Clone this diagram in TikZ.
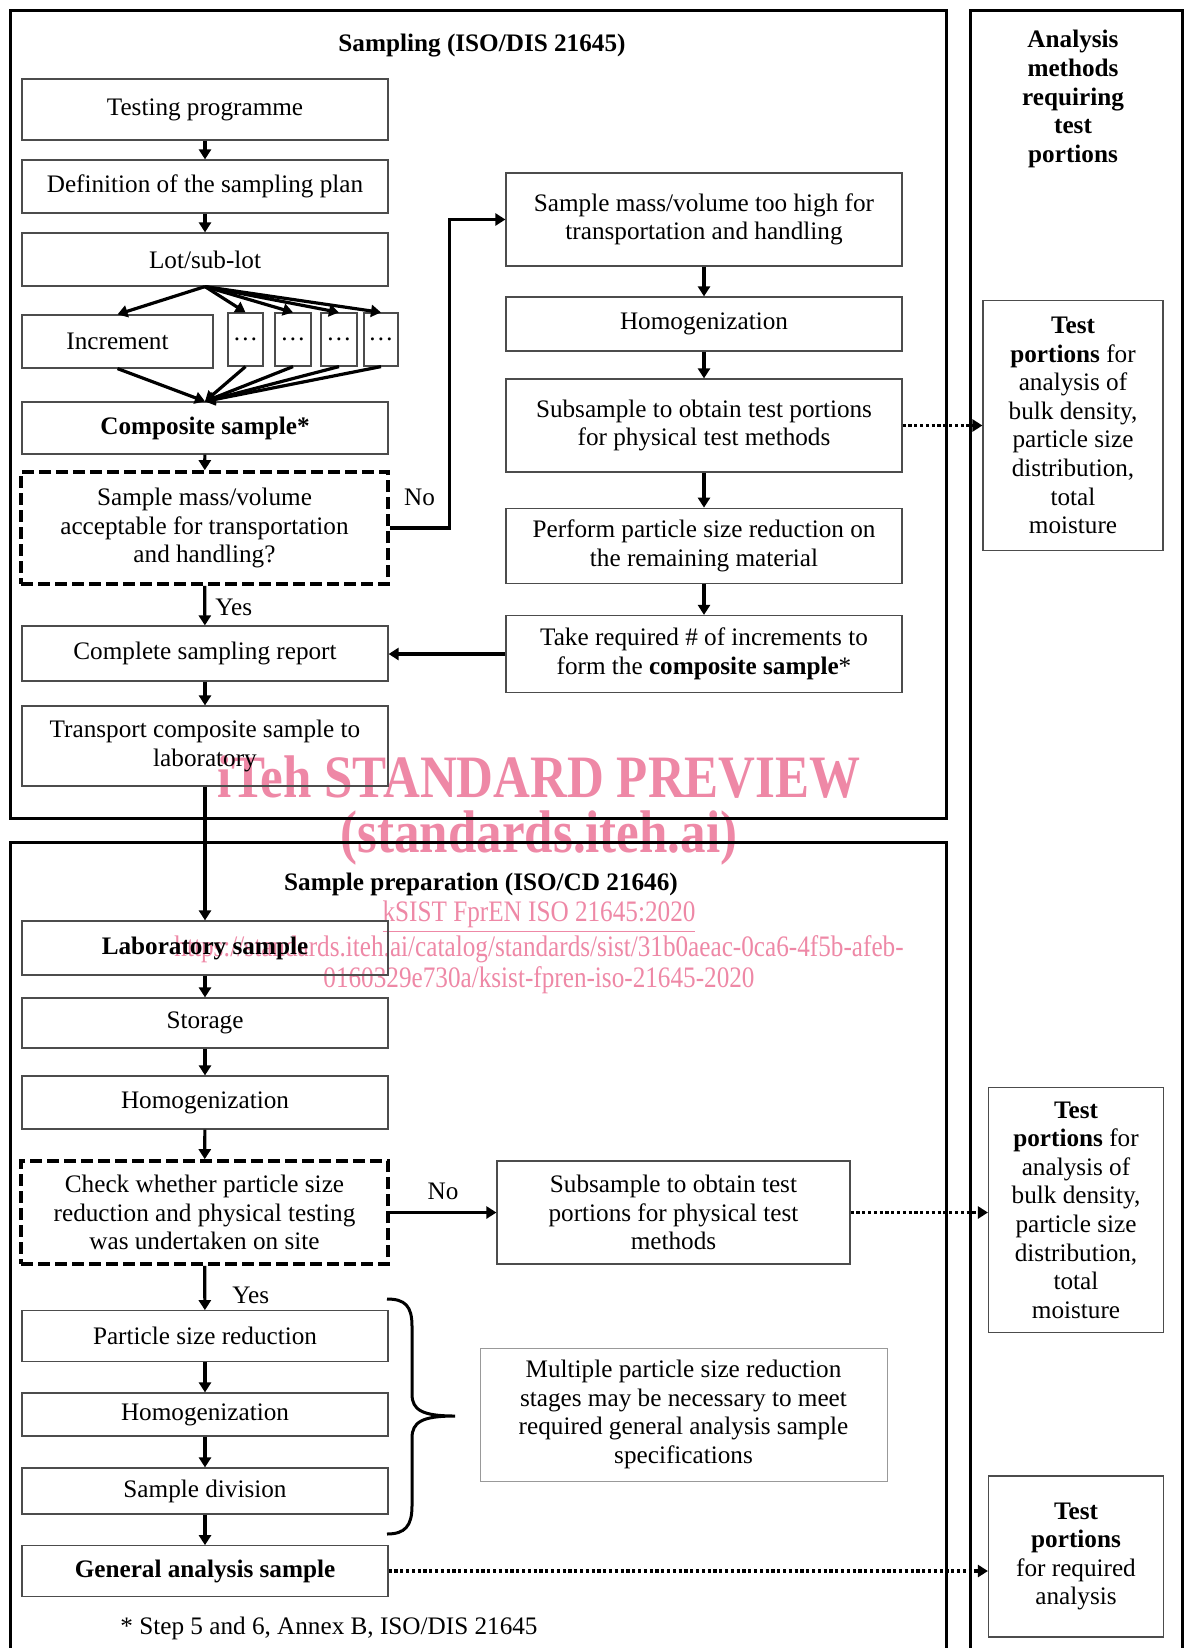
\documentclass[tikz,border=0pt]{standalone}
\usepackage{graphicx}
\usepackage{fontspec}
\setmainfont{Liberation Serif}
\usetikzlibrary{arrows.meta}
\definecolor{wmpink}{RGB}{238,136,166}
\newcommand{\fs}{\fontsize{12.6}{14.3}\selectfont}
\tikzstyle{stepbox}=[draw=black!70,line width=0.6pt,inner sep=1pt,align=center,font=\fs]
\tikzstyle{leftbox}=[stepbox,minimum width=183pt]
\tikzstyle{rightbox}=[stepbox,minimum width=198pt]
\tikzstyle{decbox}=[stepbox,draw=black,line width=1.8pt,dash pattern=on 6pt off 2.5pt,minimum width=183.5pt]
\tikzstyle{flow}=[-{Triangle[length=5pt,width=6pt]},line width=1.6pt]
\tikzstyle{dotflow}=[flow,dash pattern=on 1.6pt off 1.3pt]
\tikzstyle{frame}=[line width=1.5pt]
\tikzstyle{lbl}=[font=\fs,inner sep=0pt]
\tikzstyle{wmtext}=[text=wmpink,inner sep=0pt,font=\fontsize{12.6}{14}\selectfont]

\begin{document}
\begin{tikzpicture}[x=0.5pt,y=-0.5pt]
\useasboundingbox (0,0) rectangle (1184,1648);
% watermark, behind everything
\node[wmtext,font=\bfseries\fontsize{25.5}{30}\selectfont] (wm1) at (539,777.5) {\scalebox{1}[1.18]{iTeh STANDARD PREVIEW}};
\node[wmtext,font=\bfseries\fontsize{25.5}{30}\selectfont] (wm2) at (539,838.5) {\scalebox{1}[1.18]{(standards.iteh.ai)}};
\node[wmtext] (wm3) at (539,917) {\scalebox{1}[1.18]{\underline{kSIST FprEN ISO 21645:2020}}};
\node[wmtext] (wm4) at (539,949) {\scalebox{1}[1.18]{https://standards.iteh.ai/catalog/standards/sist/31b0aeac-0ca6-4f5b-afeb-}};
\node[wmtext] (wm5) at (539,980) {\scalebox{1}[1.18]{0160329e730a/ksist-fpren-iso-21645-2020}};
% frames
\draw[frame] (10.5,10.5) rectangle (946.6,818);
\draw[frame] (10.5,1648) |- (946.6,842.6) -- (946.6,1648);
\draw[frame] (970,1648) |- (1182,10.5) -- (1182,1648);
\node[lbl,font=\fs\bfseries] (samp) at (482,46) {Sampling (ISO/DIS 21645)};
\node[lbl,font=\fs\bfseries,align=center] (anhead) at (1073,99) {Analysis\\methods\\requiring\\test\\portions};
% sampling, left column
\node[leftbox,minimum height=30.5pt] (test) at (205,109.5) {Testing programme};
\node[leftbox,minimum height=26.5pt] (plan) at (205,186.5) {Definition of the sampling plan};
\node[leftbox,minimum height=26.5pt] (lot) at (205,259.5) {Lot/sub-lot};
\node[stepbox,minimum width=95.5pt,minimum height=26.5pt] (inc) at (117.5,341.5) {Increment};
\node[stepbox,minimum width=17.5pt,minimum height=26.5pt] (d1) at (245.5,339.5) {\ldots};
\node[stepbox,minimum width=18pt,minimum height=26.5pt] (d2) at (293,339.5) {\ldots};
\node[stepbox,minimum width=18pt,minimum height=26.5pt] (d3) at (339,339.5) {\ldots};
\node[stepbox,minimum width=17pt,minimum height=26.5pt] (d4) at (381,339.5) {\ldots};
\node[leftbox,minimum height=26pt,font=\fs\bfseries] (comp) at (205,428) {Composite sample*};
\node[decbox,minimum height=56pt] (chk1) at (204.5,528) {Sample mass/volume\\acceptable for transportation\\and handling?};
\node[leftbox,minimum height=27.5pt] (rep) at (205,653.5) {Complete sampling report};
\node[leftbox,minimum height=40pt] (trans) at (205,746) {Transport composite sample to\\laboratory};
% sampling, right column
\node[rightbox,minimum height=46.5pt] (high) at (704,219.5) {Sample mass/volume too high for\\transportation and handling};
\node[rightbox,minimum height=27pt] (hom1) at (704,324) {Homogenization};
\node[rightbox,minimum height=46.5pt] (sub1) at (704,425.5) {Subsample to obtain test portions\\for physical test methods};
\node[rightbox,minimum height=37.75pt] (red1) at (704,546) {Perform particle size reduction on\\the remaining material};
\node[rightbox,minimum height=38.5pt] (take) at (704,654) {Take required \# of increments to\\form the \textbf{composite sample}*};
\node[stepbox,minimum width=90pt,minimum height=125pt] (tp1) at (1073,425.5) {\textbf{Test}\\\textbf{portions} for\\analysis of\\bulk density,\\particle size\\distribution,\\total\\moisture};
% sample preparation
\node[lbl,font=\fs\bfseries] (prep) at (481,884.5) {Sample preparation (ISO/CD 21646)};
\node[leftbox,minimum height=27pt,font=\fs\bfseries] (lab) at (205,948) {Laboratory sample};
\node[leftbox,minimum height=25pt] (stor) at (205,1023) {Storage};
\node[leftbox,minimum height=26.5pt] (hom2) at (205,1102.5) {Homogenization};
\node[decbox,minimum height=51.5pt] (chk2) at (204.5,1212.5) {Check whether particle size\\reduction and physical testing\\was undertaken on site};
\node[stepbox,minimum width=176.5pt,minimum height=51.5pt] (sub2) at (673.5,1212.5) {Subsample to obtain test\\portions for physical test\\methods};
\node[stepbox,minimum width=87.5pt,minimum height=122.5pt] (tp2) at (1076,1210) {\textbf{Test}\\\textbf{portions} for\\analysis of\\bulk density,\\particle size\\distribution,\\total\\moisture};
\node[leftbox,minimum height=25.25pt] (red2) at (205,1336) {Particle size reduction};
\node[leftbox,minimum height=21.5pt] (hom3) at (205,1414.5) {Homogenization};
\node[leftbox,minimum height=23pt] (div) at (205,1491) {Sample division};
\node[leftbox,minimum height=25.25pt,font=\fs\bfseries] (gas) at (205,1571) {General analysis sample};
\node[stepbox,draw=black!40,line width=0.4pt,minimum width=203.5pt,minimum height=66.5pt] (multi) at (683.5,1414.5) {Multiple particle size reduction\\stages may be necessary to meet\\required general analysis sample\\specifications};
\node[stepbox,minimum width=87.5pt,minimum height=80.5pt] (tp3) at (1076,1556.5) {\textbf{Test}\\\textbf{portions}\\for required\\analysis};
\node[lbl] (note) at (329,1628.5) {* Step 5 and 6, Annex B, ISO/DIS 21645};
% connectors
\draw[flow] (test) -- (plan);
\draw[flow] (plan) -- (lot);
\draw[flow] (lot.south) -- (inc.north);
\draw[flow] (lot.south) -- (d1.north);
\draw[flow] (lot.south) -- (d2.north);
\draw[flow] (lot.south) -- (d3.north);
\draw[flow] (lot.south) -- (d4.north);
\draw[flow] (inc.south) -- (comp.north);
\draw[flow] (d1.south) -- (comp.north);
\draw[flow] (d2.south) -- (comp.north);
\draw[flow] (d3.south) -- (comp.north);
\draw[flow] (d4.south) -- (comp.north);
\draw[flow] (comp) -- (chk1);
\draw[flow] (chk1) -- node[lbl,pos=0.55,anchor=west,xshift=4.5pt]{Yes} (rep);
\draw[flow] (rep) -- (trans);
\draw[flow] (trans) -- (lab);
\draw[flow] (chk1.east) -- node[lbl,above=10.5pt]{No} ++(59.5,0) |- (high.west);
\draw[flow] (high) -- (hom1);
\draw[flow] (hom1) -- (sub1);
\draw[flow] (sub1) -- (red1);
\draw[flow] (red1) -- (take);
\draw[flow] (take.west) -- (take.west -| rep.east);
\draw[dotflow] (sub1.east) -- (tp1.west);
\draw[flow] (lab) -- (stor);
\draw[flow] (stor) -- (hom2);
\draw[flow] (hom2) -- (chk2);
\draw[flow] (chk2.east) -- node[lbl,above=5.8pt]{No} (sub2.west);
\draw[dotflow] (sub2.east) -- (sub2.east -| tp2.west);
\draw[flow] (chk2) -- node[lbl,pos=0.66,anchor=west,xshift=13pt]{Yes} (red2);
\draw[flow] (red2) -- (hom3);
\draw[flow] (hom3) -- (div);
\draw[flow] (div) -- (gas);
\draw[dotflow] (gas.east) -- (gas.east -| tp3.west);
% brace
\draw[line width=1.5pt] (387,1299) .. controls (405,1299) and (412,1306) .. (412,1326) -- (412,1394) .. controls (412,1410) and (422,1416) .. (455,1416) .. controls (422,1416) and (412,1422) .. (412,1438) -- (412,1506) .. controls (412,1526) and (405,1534) .. (387,1534);
\end{tikzpicture}
\end{document}
